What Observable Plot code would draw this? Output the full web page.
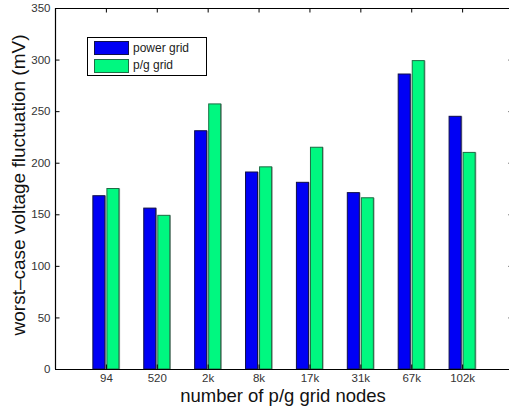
<!DOCTYPE html>
<html>
<head>
<meta charset="utf-8">
<script src="https://cdn.jsdelivr.net/npm/d3@7"></script>
<script src="https://cdn.jsdelivr.net/npm/@observablehq/plot@0.6"></script>
<style>
  html, body { margin: 0; padding: 0; background: #fff; overflow: hidden; }
  #wrap { position: relative; width: 509px; height: 410px; overflow: hidden; font-family: "Liberation Sans", Arial, Helvetica, sans-serif; }
  #legend { position: absolute; left: 87px; top: 37px; width: 120px; height: 39px; border: 1px solid #000; background: #fff; box-sizing: border-box; }
  .sw { position: absolute; left: 6px; width: 35px; height: 14px; box-sizing: border-box; }
  .lt { position: absolute; left: 45px; font-size: 12px; color: #222; line-height: 14px; white-space: nowrap; }
</style>
</head>
<body>
<div id="wrap"></div>
<script>
const categories = ["94", "520", "2k", "8k", "17k", "31k", "67k", "102k"];
const seriesNames = ["power grid", "p/g grid"];
const powerGrid = [168, 156, 231, 191, 181, 171, 286, 245];
const pgGrid = [175, 149, 257, 196, 215, 166, 299, 210];
const yTicks = [0, 50, 100, 150, 200, 250, 300, 350];
const seriesColors = ["#0000f5", "#00f880"];
const seriesStrokes = ["#10104a", "#1d6e45"];

const rows = [];
categories.forEach((c, i) => {
  rows.push({cat: c, pos: i + 1, series: seriesNames[0], value: powerGrid[i], k: 0});
  rows.push({cat: c, pos: i + 1, series: seriesNames[1], value: pgGrid[i], k: 1});
});
const catPos = categories.map((c, i) => i + 1);

const W = 513, H = 410, mL = 55, mT = 8, mB = 41, mR = 0;
const frameW = W - mL - mR, frameH = H - mT - mB;
const off = 0.138, hw = 0.118;
const font = "'Liberation Sans', Arial, Helvetica, sans-serif";

const chart = Plot.plot({
  width: W,
  height: H,
  marginLeft: mL,
  marginRight: mR,
  marginTop: mT,
  marginBottom: mB,
  style: {fontFamily: font, maxWidth: "none", background: "#fff", overflow: "hidden"},
  x: {type: "linear", domain: [0, categories.length + 1]},
  y: {domain: [0, 350]},
  marks: [
    Plot.rectY(rows, {
      x1: d => d.pos + (d.k === 0 ? -off : off) - hw,
      x2: d => d.pos + (d.k === 0 ? -off : off) + hw,
      y: "value", fill: "#a0a0a0", dx: 1.2, dy: 0
    }),
    Plot.rectY(rows, {
      x1: d => d.pos + (d.k === 0 ? -off : off) - hw,
      x2: d => d.pos + (d.k === 0 ? -off : off) + hw,
      y: "value",
      fill: d => seriesColors[d.k],
      stroke: d => seriesStrokes[d.k],
      strokeWidth: 1
    }),
    Plot.ruleY([0, 350], {stroke: "#000", strokeWidth: 1.2}),
    Plot.ruleX([0, categories.length + 1], {stroke: "#000", strokeWidth: 1.2}),
    Plot.ruleY(yTicks, {insetRight: frameW - 4.5, stroke: "#000"}),
    Plot.ruleY(yTicks, {insetLeft: frameW - 4.5, stroke: "#000"}),
    Plot.ruleX(catPos, {insetTop: frameH - 4.5, stroke: "#000"}),
    Plot.ruleX(catPos, {insetBottom: frameH - 4.5, stroke: "#000"}),
    Plot.axisY(yTicks, {tickSize: 0, tickPadding: 5, fontSize: 11.5, fill: "#333", label: null}),
    Plot.axisX(catPos, {tickSize: 0, tickPadding: 4, fontSize: 11.5, fill: "#333", label: null,
      tickFormat: d => categories[d - 1]}),
    Plot.text(["number of p/g grid nodes"], {
      frameAnchor: "bottom", dx: -1.5, dy: 27, lineAnchor: "middle",
      fontSize: 18.5, fill: "#111", fontFamily: font
    }),
    Plot.text(["worst\u2013case voltage fluctuation (mV)"], {
      frameAnchor: "left", dx: -37, dy: -4, rotate: -90, lineAnchor: "middle", textAnchor: "middle",
      fontSize: 19, fill: "#111", fontFamily: font
    })
  ]
});

const wrap = document.getElementById("wrap");
wrap.appendChild(chart);

const legend = document.createElement("div");
legend.id = "legend";
seriesNames.forEach((name, k) => {
  const sw = document.createElement("div");
  sw.className = "sw";
  sw.style.top = (k === 0 ? 3 : 21) + "px";
  sw.style.background = seriesColors[k];
  sw.style.border = "1px solid " + seriesStrokes[k];
  legend.appendChild(sw);
  const t = document.createElement("div");
  t.className = "lt";
  t.style.top = (k === 0 ? 3 : 20) + "px";
  t.textContent = name;
  legend.appendChild(t);
});
wrap.appendChild(legend);
</script>
</body>
</html>
